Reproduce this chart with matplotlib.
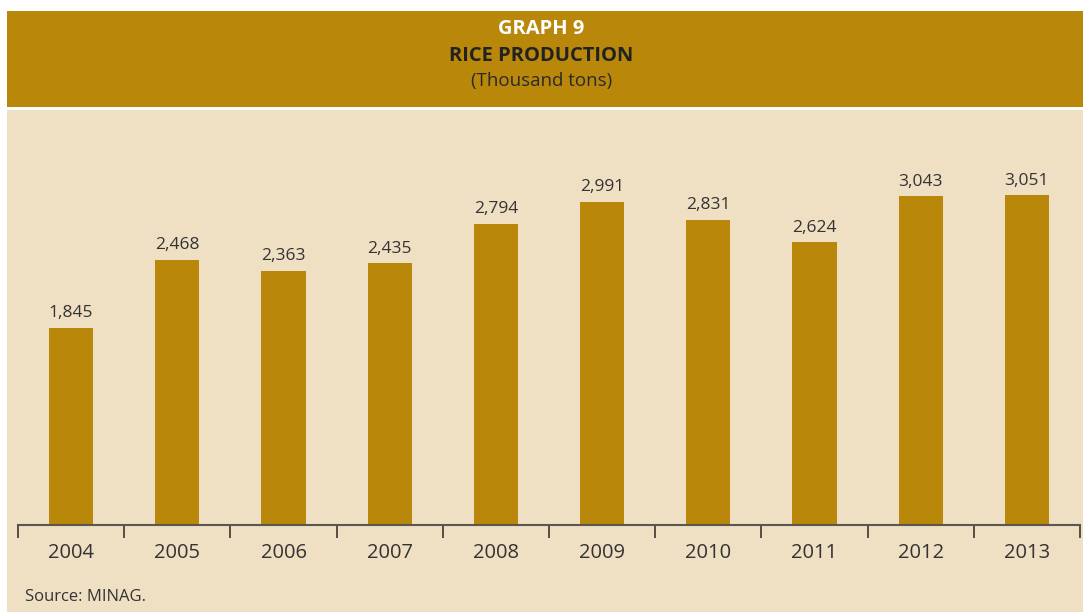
import matplotlib.pyplot as plt
import matplotlib.patches as mpatches

plt.rcParams["font.family"] = ["Open Sans", "DejaVu Sans"]

years = ["2004", "2005", "2006", "2007", "2008", "2009", "2010", "2011", "2012", "2013"]
production = [1845, 2468, 2363, 2435, 2794, 2991, 2831, 2624, 3043, 3051]

GOLD = "#B9880B"
BEIGE = "#EFDFC3"
INK = "#333333"
W, H = 1083, 612

fig = plt.figure(figsize=(W / 100, H / 100), dpi=100)
fig.patch.set_facecolor("white")


def fx(px):
    return px / W


def fy(py):
    return 1 - py / H


# header band and beige panel
fig.patches.append(mpatches.Rectangle((fx(7), fy(107)), fx(W - 7), 96 / H,
                                      facecolor=GOLD, edgecolor="none",
                                      transform=fig.transFigure, zorder=-2))
fig.patches.append(mpatches.Rectangle((fx(7), 0), fx(W - 7), fy(110),
                                      facecolor=BEIGE, edgecolor="none",
                                      transform=fig.transFigure, zorder=-2))

fig.text(0.5, fy(29), "GRAPH 9", ha="center", va="center", fontsize=14.5,
         fontweight="bold", color="white")
fig.text(0.5, fy(56), "RICE PRODUCTION", ha="center", va="center", fontsize=14.5,
         fontweight="bold", color="#222222")
fig.text(0.5, fy(81), "(Thousand tons)", ha="center", va="center", fontsize=13.5,
         color="#2A2A2A")

ax = fig.add_axes([fx(18), fy(525), fx(1080) - fx(18), (525 - 159) / H])
ax.set_facecolor("none")
x = list(range(len(years)))
ax.bar(x, production, width=0.415, color=GOLD, zorder=2)
for xi, v in zip(x, production):
    ax.text(xi, v + 60, f"{v:,}", ha="center", va="bottom", fontsize=12.5, color=INK)

# bars rise from a baseline a little under the axis line
ax.set_xlim(-0.5, len(years) - 0.5)
ax.set_ylim(55, 3382)
ax.set_yticks([])
for side in ["left", "right", "top"]:
    ax.spines[side].set_visible(False)
ax.spines["bottom"].set_color("#5A5650")
ax.spines["bottom"].set_linewidth(1.5)

ax.set_xticks(x)
ax.set_xticklabels(years, fontsize=14.5, color=INK)
ax.tick_params(axis="x", which="major", length=0, pad=13)
ax.set_xticks([i - 0.5 for i in range(len(years) + 1)], minor=True)
ax.tick_params(axis="x", which="minor", length=9, width=1.2, color="#3A3630", direction="out")

fig.text(fx(25), fy(597), "Source: MINAG.", ha="left", va="center", fontsize=12,
         color=INK)

fig.savefig("out.png", dpi=100)
